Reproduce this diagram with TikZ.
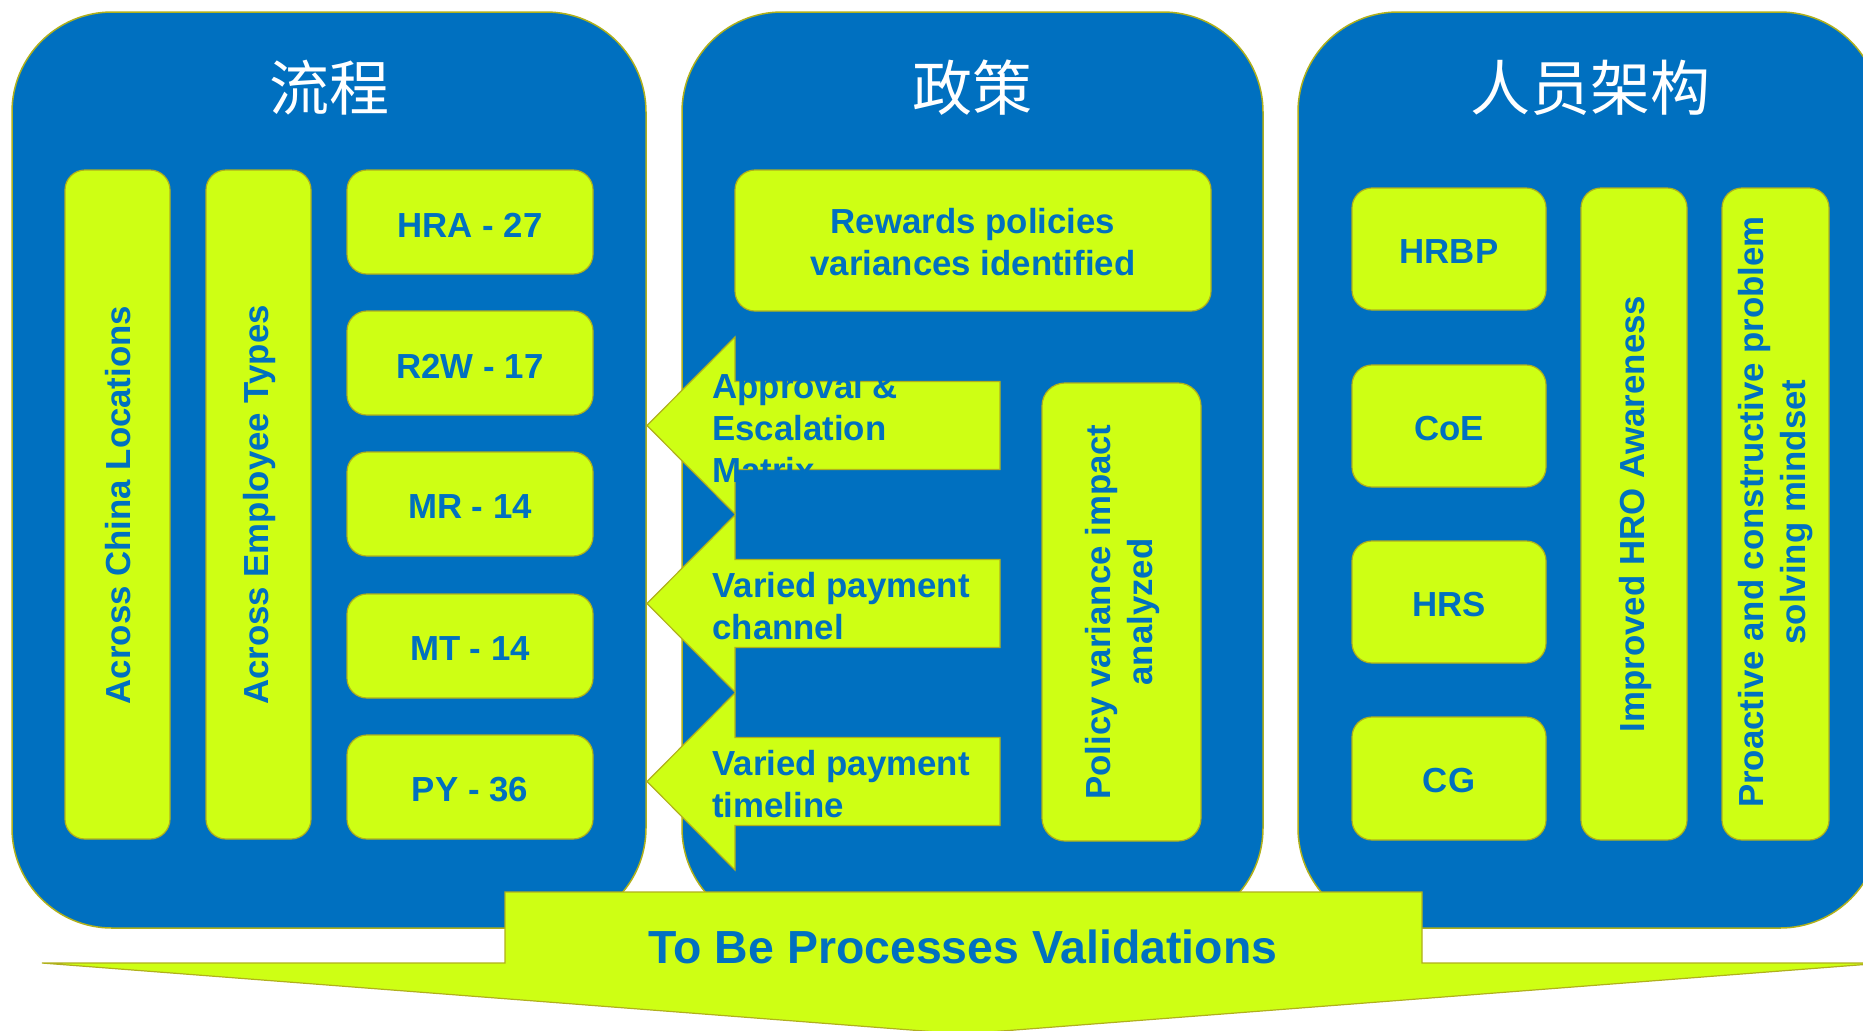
\documentclass[tikz,border=0pt]{standalone}
\usepackage{fontspec}
\setmainfont{Liberation Sans}
\newfontfamily\cjk{Noto Sans CJK SC}
\usepackage{tikz}

\definecolor{hrblue}{RGB}{0,112,192}
\definecolor{tilelime}{RGB}{206,255,20}
\definecolor{rimline}{RGB}{176,176,28}

\begin{document}
\begin{tikzpicture}[x=0.5pt,y=0.5pt,yscale=-1,xscale=1,
  panel/.style={draw=rimline,fill=hrblue,line width=0.75pt,rounded corners=50pt},
  tile/.style={draw=rimline,fill=tilelime,line width=0.6pt,rounded corners=10pt},
  flag/.style={draw=rimline,fill=tilelime,line width=0.6pt},
  tiletext/.style={text=hrblue,font=\bfseries\fontsize{17.4}{21}\selectfont,align=center,inner sep=0pt},
  paneltitle/.style={text=white,font=\cjk\fontsize{30}{36}\selectfont,inner sep=0pt}]
\useasboundingbox (0,0) rectangle (1863,1030);
\clip (0,0) rectangle (1863,1030);

%Panels
\draw [panel] (12,12) rectangle (646,928);
\draw [panel] (682,12) rectangle (1263,928);
\draw [panel] (1298,12) rectangle (1880,928);

% Text Node
\draw (329,88) node (titleflow) [paneltitle] {流程};
% Text Node
\draw (972,88) node (titlepolicy) [paneltitle] {政策};
% Text Node
\draw (1590,88) node (titlepeople) [paneltitle] {人员架构};

%Left panel tiles
\draw [tile] (65,170) rectangle (170,839);
\draw [tile] (206,170) rectangle (311,839);
\draw [tile] (347,170) rectangle (593,274);
\draw [tile] (347,311) rectangle (593,415);
\draw [tile] (347,452) rectangle (593,556);
\draw [tile] (347,594) rectangle (593,698);
\draw [tile] (347,735) rectangle (593,839);

% Text Node
\draw (118,505) node (china) [tiletext,rotate=90] {Across China Locations};
% Text Node
\draw (259,505) node (emptypes) [tiletext,rotate=90] {Across Employee Types};
% Text Node
\draw (470,225) node (hra) [tiletext] {HRA - 27};
% Text Node
\draw (470,366) node (rtw) [tiletext] {R2W - 17};
% Text Node
\draw (470,507) node (mr) [tiletext] {MR - 14};
% Text Node
\draw (470,649) node (mt) [tiletext] {MT - 14};
% Text Node
\draw (470,790) node (py) [tiletext] {PY - 36};

%Middle panel tiles
\draw [tile] (735,170) rectangle (1211,311);
\draw [tile,rounded corners=11.5pt] (1042,383) rectangle (1201,841);

%Left arrows
\draw [flag] (1000,381.5) -- (735,381.5) -- (735,337) -- (647,425.5) -- (735,514) -- (735,469.5) -- (1000,469.5) -- cycle;
\draw [flag] (1000,559.5) -- (735,559.5) -- (735,515) -- (647,603.5) -- (735,692) -- (735,647.5) -- (1000,647.5) -- cycle;
\draw [flag] (1000,737.5) -- (735,737.5) -- (735,693) -- (647,781.5) -- (735,870) -- (735,825.5) -- (1000,825.5) -- cycle;

% Text Node
\draw (973,242) node (rewards) [tiletext] {Rewards policies\\variances identified};
% Text Node
\draw (712,428) node (approval) [tiletext,align=left,anchor=west] {Approval \&\\Escalation\\Matrix};
% Text Node
\draw (712,606.5) node (channel) [tiletext,align=left,anchor=west] {Varied payment\\channel};
% Text Node
\draw (712,784.5) node (timeline) [tiletext,align=left,anchor=west] {Varied payment\\timeline};
% Text Node
\draw (1122,612) node (impact) [tiletext,rotate=90] {Policy variance impact\\analyzed};

%Right panel tiles
\draw [tile] (1352,188) rectangle (1546,310);
\draw [tile] (1352,365) rectangle (1546,487);
\draw [tile] (1352,541) rectangle (1546,663);
\draw [tile] (1352,717) rectangle (1546,840);
\draw [tile] (1581,188) rectangle (1687,840);
\draw [tile] (1722,188) rectangle (1829,840);

% Text Node
\draw (1449,252) node (hrbp) [tiletext] {HRBP};
% Text Node
\draw (1449,429) node (coe) [tiletext] {CoE};
% Text Node
\draw (1449,605) node (hrs) [tiletext] {HRS};
% Text Node
\draw (1449,781) node (cg) [tiletext] {CG};
% Text Node
\draw (1635,514) node (awareness) [tiletext,rotate=90] {Improved HRO Awareness};
% Text Node
\draw (1776,512) node (mindset) [tiletext,rotate=90] {Proactive and constructive problem\\solving mindset};

%Bottom arrow
\draw [flag] (505,892) -- (1422,892) -- (1422,963) -- (1884,963) -- (963,1034) -- (42,963) -- (505,963) -- cycle;

% Text Node
\draw (963,963) node (validate) [tiletext,anchor=base,font=\bfseries\fontsize{23.2}{28}\selectfont] {To Be Processes Validations};

\end{tikzpicture}
\end{document}
